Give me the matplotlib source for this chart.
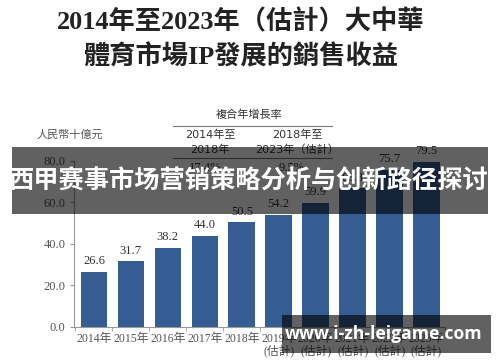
import matplotlib
matplotlib.use("Agg")
import matplotlib.pyplot as plt
from matplotlib.patches import Rectangle

# data (RMB billion)
years = ["2014年", "2015年", "2016年", "2017年", "2018年",
         "2019年\n(估計)", "2020年\n(估計)", "2021年\n(估計)", "2022年\n(估計)", "2023年\n(估計)"]
revenue = [26.6, 31.7, 38.2, 44.0, 50.5, 54.2, 59.9, 66.8, 75.7, 79.5]
cagr_periods = [("2014年至", "2018年"), ("2018年至", "2023年（估計）")]
cagr_values = ["17.4%", "9.5%"]
yticks = [0, 20, 40, 60, 80]

SERIF = ["Liberation Serif", "Noto Sans CJK TC"]
CJK = ["Noto Sans CJK TC", "DejaVu Sans"]
BAR = "#355d93"
GREY = "#555555"

fig = plt.figure(figsize=(5, 3.62), dpi=100)
ax = fig.add_axes([0.148, 0.0967, 0.742, 0.4586])

x = list(range(len(revenue)))
ax.bar(x, revenue, width=0.72, color=BAR, zorder=2)
for xi, v in zip(x, revenue):
    ax.text(xi, v + 2.2, f"{v:.1f}", ha="center", va="bottom",
            family=SERIF, fontsize=9, color="#333333")

ax.set_xlim(-0.54, 9.46)
ax.set_ylim(0, 80)
ax.set_yticks(yticks)
ax.set_yticklabels([f"{t:.1f}" for t in yticks], family=SERIF, fontsize=9, color=GREY)
ax.set_xticks(x)
ax.set_xticklabels(years, family=SERIF, fontsize=8.5, color=GREY, linespacing=1.0)
ax.set_xticks([i - 0.5 for i in range(len(revenue) + 1)], minor=True)
ax.tick_params(axis="x", which="major", length=0, pad=4)
ax.tick_params(axis="x", which="minor", length=3, color="#999999")
ax.tick_params(axis="y", length=3, color="#999999", pad=3)
for s in ["top", "right"]:
    ax.spines[s].set_visible(False)
for s in ["left", "bottom"]:
    ax.spines[s].set_color("#999999")
    ax.spines[s].set_linewidth(0.8)

# unit label
fig.text(70 / 500, 1 - 135 / 362, "人民幣十億元", ha="center", va="center",
         family=CJK, fontsize=8, color=GREY)

# CAGR header table
fig.text(249 / 500, 1 - 115 / 362, "複合年增長率", ha="center", va="center",
         family=CJK, fontsize=8, color="#333333")
for ypx in [126, 158]:
    fig.add_artist(plt.Line2D([173 / 500, 332 / 500], [1 - ypx / 362] * 2,
                              color="#777777", lw=0.8))
for cx, (l1, l2), val in zip([210, 297], cagr_periods, cagr_values):
    fig.text(cx / 500, 1 - 135 / 362, l1, ha="center", va="center",
             family=["DejaVu Sans", "Noto Sans CJK TC"], fontsize=8, color="#333333")
    fig.text(cx / 500, 1 - 150 / 362, l2, ha="center", va="center",
             family=["DejaVu Sans", "Noto Sans CJK TC"], fontsize=8, color="#333333")
    fig.text((cx - 5) / 500, 1 - 168 / 362, val, ha="center", va="center",
             family=SERIF, fontsize=9, color="#333333")

# title
fig.text(0.482, 1 - 22 / 362, "2014年至2023年（估計）大中華", ha="center", va="center",
         family=SERIF, fontsize=18.9, weight="bold", color="#222222")
fig.text(0.482, 1 - 57 / 362, "體育市場IP發展的銷售收益", ha="center", va="center",
         family=SERIF, fontsize=18.9, weight="bold", color="#222222")

# overlay banners
fig.add_artist(Rectangle((0.024, 0.409), 0.952, 0.185, transform=fig.transFigure,
                         facecolor="black", alpha=0.62, edgecolor="none", zorder=10))
fig.text(0.498, 0.5, "西甲赛事市场营销策略分析与创新路径探讨", ha="center", va="center",
         family=["Noto Sans CJK SC", "DejaVu Sans"], fontsize=18.2, weight="bold",
         color="white", zorder=11)
fig.add_artist(Rectangle((0.564, 0.025), 0.418, 0.105, transform=fig.transFigure,
                         facecolor="black", alpha=0.62, edgecolor="none", zorder=10))
fig.text(0.768, 0.077, "www.i-zh-leigame.com", ha="center", va="center",
         family=["Open Sans", "DejaVu Sans"], fontsize=12.6, weight="bold",
         color="white", zorder=11)

fig.savefig("out.png", dpi=100)
